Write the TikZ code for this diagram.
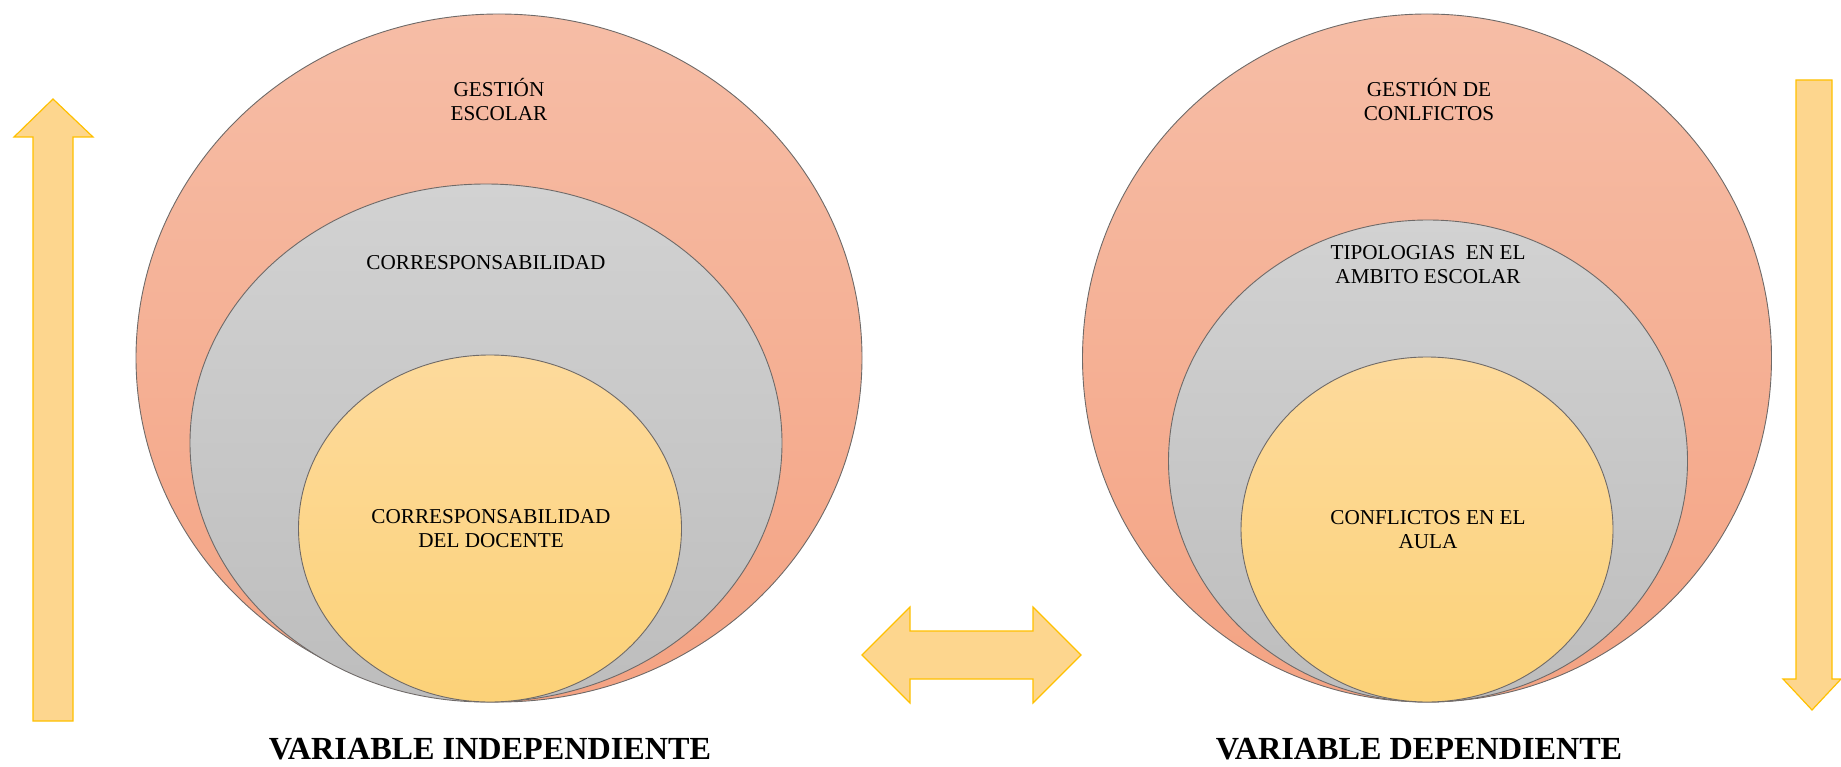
\documentclass[tikz,border=0pt]{standalone}
\usepackage{fontspec}
\setmainfont{Liberation Serif}
\usetikzlibrary{shapes.geometric}
\definecolor{salmonT}{HTML}{F6BDA6}
\definecolor{salmonB}{HTML}{F4A383}
\definecolor{greyT}{HTML}{D2D2D2}
\definecolor{greyB}{HTML}{BDBDBD}
\definecolor{yelT}{HTML}{FDDA9C}
\definecolor{yelB}{HTML}{FCD278}
\definecolor{arrowfill}{HTML}{FDD68E}
\definecolor{arrowline}{HTML}{FFC000}
\definecolor{rimcol}{HTML}{6F6A68}
\tikzset{
  oval/.style={ellipse, draw=rimcol, line width=0.9pt, inner sep=0pt},
  outerov/.style={oval, top color=salmonT, bottom color=salmonB},
  midov/.style={oval, top color=greyT, bottom color=greyB},
  innerov/.style={oval, top color=yelT, bottom color=yelB},
  lbl/.style={align=center, font=\fontsize{21.2}{24}\selectfont, text=black},
  varlbl/.style={font=\fontsize{32.2}{36}\selectfont\bfseries, text=black},
  fatarrow/.style={fill=arrowfill, draw=arrowline, line width=1.2pt, line join=miter}
}
\begin{document}
\begin{tikzpicture}[x=1pt, y=-1pt]
\useasboundingbox (0,0) rectangle (1841,767);
% left set of ellipses
\node[outerov, minimum width=726pt, minimum height=688pt] (lo) at (499,358) {};
\node[midov, minimum width=592pt, minimum height=518pt] (lm) at (486,443) {};
\node[innerov, minimum width=383pt, minimum height=347pt] (li) at (490,528.5) {};
\node[lbl] (t1) at (499,100) {GESTIÓN\\ESCOLAR};
\node[lbl] (t2) at (486,263) {CORRESPONSABILIDAD};
\node[lbl] (t3) at (491,529) {CORRESPONSABILIDAD\\DEL DOCENTE};
% right set of ellipses
\node[outerov, minimum width=689pt, minimum height=688pt] (ro) at (1427,358) {};
\node[midov, minimum width=519pt, minimum height=482pt] (rm) at (1428,461) {};
\node[innerov, minimum width=372pt, minimum height=345pt] (ri) at (1427,529.5) {};
\node[lbl] (t4) at (1429,100) {GESTIÓN DE\\CONLFICTOS};
\node[lbl] (t5) at (1428,265) {TIPOLOGIAS\ \ EN EL\\AMBITO ESCOLAR};
\node[lbl] (t6) at (1428,530) {CONFLICTOS EN EL\\AULA};
% variable labels
\node[varlbl] (v1) at (490,749) {VARIABLE INDEPENDIENTE};
\node[varlbl] (v2) at (1419,749) {VARIABLE DEPENDIENTE};
% up arrow (left)
\draw[fatarrow] (33,721) -- (33,137) -- (14,137) -- (53,99) -- (93,137) -- (73,137) -- (73,721) -- cycle;
% down arrow (right)
\draw[fatarrow] (1796,80) -- (1832,80) -- (1832,679) -- (1841,679) -- (1812,710) -- (1783,679) -- (1796,679) -- cycle;
% double arrow (middle)
\draw[fatarrow] (862,655) -- (910,607) -- (910,631) -- (1033,631) -- (1033,607) -- (1081,655) -- (1033,703) -- (1033,679) -- (910,679) -- (910,703) -- cycle;
\end{tikzpicture}
\end{document}
